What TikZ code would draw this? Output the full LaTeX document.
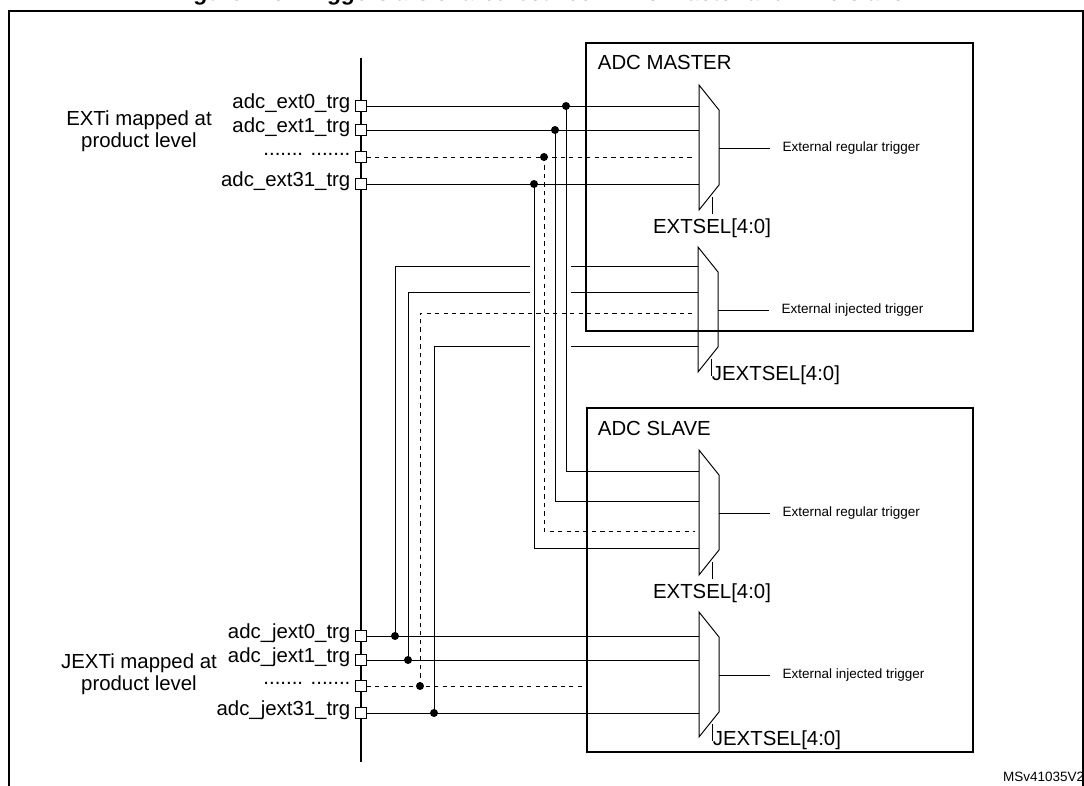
\documentclass[tikz,border=0pt]{standalone}
\usepackage{fontspec}
\setmainfont{Liberation Sans}
\usepackage{tikz}
\usetikzlibrary{calc}

\tikzset{
	port/.style={draw,fill=white,minimum size=7.5pt,inner sep=0pt},
	sig/.style={font=\fontsize{14.5pt}{15.5pt}\selectfont,inner sep=1pt},
	outlbl/.style={font=\fontsize{9.6pt}{11pt}\selectfont,anchor=west,inner sep=0pt},
	dot/.style={circle,fill,inner sep=0pt,minimum size=5.7pt},
	blk/.style={draw,line width=1.3pt},
}
% mux: #1 = name, #2 = x of left edge, #3 = y of top
\newcommand{\adcmux}[3]{%
	\draw (#2,#3) -- ++(20,25) -- ++(0,75) -- ++(-20,25) -- cycle;
	\coordinate (#1-out) at ($(#2,#3)+(20,63)$);
	\coordinate (#1-sel) at ($(#2,#3)+(13,129)$);
}

\begin{document}
\begin{tikzpicture}[x=0.025cm,y=-0.025cm,line width=0.7pt]
\useasboundingbox (0,0) rectangle (1084,786);
\begin{scope}
\clip (0,0) rectangle (1084,786);
\node[font=\fontsize{16pt}{18pt}\bfseries\itshape\selectfont,anchor=base] (title) at (540,1) {Figure 113. Triggers are shared between ADC master and ADC slave};
\draw[line width=1pt] (9,11) rectangle (1083,800);
\node[font=\fontsize{9.6pt}{11pt}\selectfont,anchor=west] (ref) at (998,777) {MSv41035V2};
\end{scope}

%blocks
\draw[blk] (586,43) rectangle (973,331);
\draw[blk] (587,408) rectangle (973,752);
\node[sig,anchor=west] (mastername) at (596,62) {ADC MASTER};
\node[sig,anchor=west] (slavename) at (596,428) {ADC SLAVE};

%muxes
\adcmux{mreg}{699}{85}
\adcmux{minj}{698}{247}
\adcmux{sreg}{699}{450}
\adcmux{sinj}{699}{612}

\foreach \m/\t in {mreg/External regular trigger,minj/External injected trigger,sreg/External regular trigger,sinj/External injected trigger}{
	\draw (\m-out) -- ++(51,0) coordinate (\m-end);
	\node[outlbl] (\m-txt) at ($(\m-end)+(12,0)$) {\t};
	\draw (\m-sel) -- ++(0,-17);
}
\node[sig,anchor=north] (extselm) at ($(mreg-sel)+(0,3)$) {EXTSEL[4:0]};
\node[sig,anchor=north west] (jextselm) at ($(minj-sel)+(-1,-12)$) {JEXTSEL[4:0]};
\node[sig,anchor=north] (extsels) at ($(sreg-sel)+(0,3)$) {EXTSEL[4:0]};
\node[sig,anchor=north west] (jextsels) at ($(sinj-sel)+(-1,-12)$) {JEXTSEL[4:0]};

%bus
\draw[line width=1.3pt] (361,58) coordinate (bustop) -- (361,762) coordinate (busbot);

%regular triggers
\foreach \i/\y/\sy/\dx in {0/106/471/566,1/130/501/555,2/157/531/544,3/184/548/534}{
	\coordinate (rin\i) at (699,\y);
	\coordinate (sin\i) at (699,\sy);
	\node[dot] (rd\i) at (\dx,\y) {};
}
\foreach \i/\y/\l in {0/106/adc\_ext0\_trg,1/130/adc\_ext1\_trg,2/157/{....... .......},3/184/adc\_ext31\_trg}{
	\node[port] (rp\i) at (361,\y) {};
	\node[sig,anchor=east] (rl\i) at ($(rp\i.west)+(-3,-3)$) {\l};
}
\foreach \i in {0,1,3}{
	\draw (rp\i) -- (rin\i);
	\draw (rd\i.center) |- (sin\i);
}
\draw[dashed] (rp2) -- ($(rin2)+(-4,0)$);
\draw[dashed] (rd2.center) |- ($(sin2)+(-4,0)$);

%injected triggers
\foreach \i/\y/\my/\dx/\l in {0/636/266/395/adc\_jext0\_trg,1/660/292/408/adc\_jext1\_trg,2/686/313/420/{....... .......},3/713/346/434/adc\_jext31\_trg}{
	\node[port] (jp\i) at (361,\y) {};
	\node[sig,anchor=east] (jl\i) at ($(jp\i.west)+(-3,-3)$) {\l};
	\node[dot] (jd\i) at (\dx,\y) {};
	\coordinate (jc\i) at (\dx,\my);
	\coordinate (jgl\i) at (530,\my);
	\coordinate (jgr\i) at (571,\my);
	\coordinate (jin\i) at (698,\my);
	\coordinate (jsin\i) at (699,\y);
}
\foreach \i in {0,1,3}{
	\draw (jp\i) -- (jsin\i);
	\draw (jd\i.center) -- (jc\i) -- (jgl\i);
	\draw (jgr\i) -- (jin\i);
}
\coordinate (jend2) at (587,686);
\draw[dashed] (jp2) -- (jend2);
\draw[dashed] (jd2.center) -- (jc2) -- ($(jin2)+(-4,0)$);

%side labels
\node[sig,align=center] (extilbl) at (139,131) {EXTi mapped at\\product level};
\node[sig,align=center] (jextilbl) at (139,674) {JEXTi mapped at\\product level};
\end{tikzpicture}
\end{document}
